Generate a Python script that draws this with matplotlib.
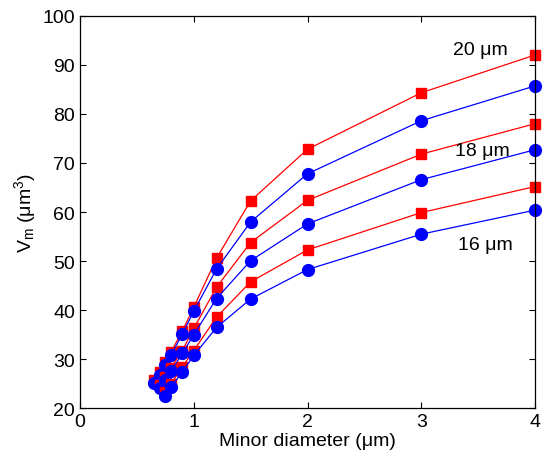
import matplotlib as mpl
mpl.use('Agg')
import matplotlib.pyplot as plt

plt.rcParams['font.family'] = ['Liberation Sans', 'DejaVu Sans']
plt.rcParams['mathtext.fontset'] = 'custom'
plt.rcParams['mathtext.rm'] = 'Liberation Sans'
plt.rcParams['mathtext.it'] = 'Liberation Sans'

# minor diameter (um) for each major diameter
x20 = [0.65, 0.7, 0.75, 0.8, 0.9, 1.0, 1.2, 1.5, 2, 3, 4]
x18 = [0.7, 0.75, 0.8, 0.9, 1.0, 1.2, 1.5, 2, 3, 4]
x16 = [0.75, 0.8, 0.9, 1.0, 1.2, 1.5, 2, 3, 4]

# red squares
red20 = [25.8, 27.5, 29.5, 31.5, 35.8, 40.6, 50.6, 62.3, 72.8, 84.3, 92.0]
red18 = [24.7, 26.4, 28.3, 31.8, 36.3, 44.7, 53.8, 62.4, 71.8, 78.0]
red16 = [23.3, 25.0, 28.5, 31.8, 38.6, 45.8, 52.3, 59.9, 65.2]

# blue circles
blue20 = [25.2, 26.8, 28.8, 30.8, 35.2, 39.8, 48.4, 58.0, 67.8, 78.6, 85.7]
blue18 = [24.2, 25.8, 27.6, 31.2, 35.0, 42.4, 50.1, 57.6, 66.6, 72.7]
blue16 = [22.6, 24.3, 27.5, 30.8, 36.5, 42.3, 48.3, 55.5, 60.4]

labels = ['20 μm', '18 μm', '16 μm']
label_pos = [(3.28, 93.2), (3.30, 72.5), (3.32, 53.5)]

fig = plt.figure(figsize=(5.45, 4.56), dpi=100)
ax = fig.add_axes([0.1468, 0.102, 0.8349, 0.8614])

for xs, r, b in [(x20, red20, blue20), (x18, red18, blue18), (x16, red16, blue16)]:
    ax.plot(xs, r, '-s', color='red', lw=0.9, ms=7, clip_on=False)
    ax.plot(xs, b, '-o', color='blue', lw=0.9, ms=8.5, clip_on=False)

for t, (tx, ty) in zip(labels, label_pos):
    ax.text(tx, ty, t, fontsize=14, ha='left', va='center')

ax.set_xlim(0, 4)
ax.set_ylim(20, 100)
ax.set_xticks([0, 1, 2, 3, 4])
ax.set_yticks(range(20, 101, 10))
ax.tick_params(direction='in', top=True, right=True, labelsize=14, length=4, width=0.8)
for s in ax.spines.values():
    s.set_linewidth(0.9)

ax.set_xlabel('Minor diameter (μm)', fontsize=14, labelpad=1)
ax.set_ylabel(r'V$_\mathregular{m}$ (μm$^\mathregular{3}$)', fontsize=14, labelpad=3)

plt.savefig('out.png', dpi=100)
